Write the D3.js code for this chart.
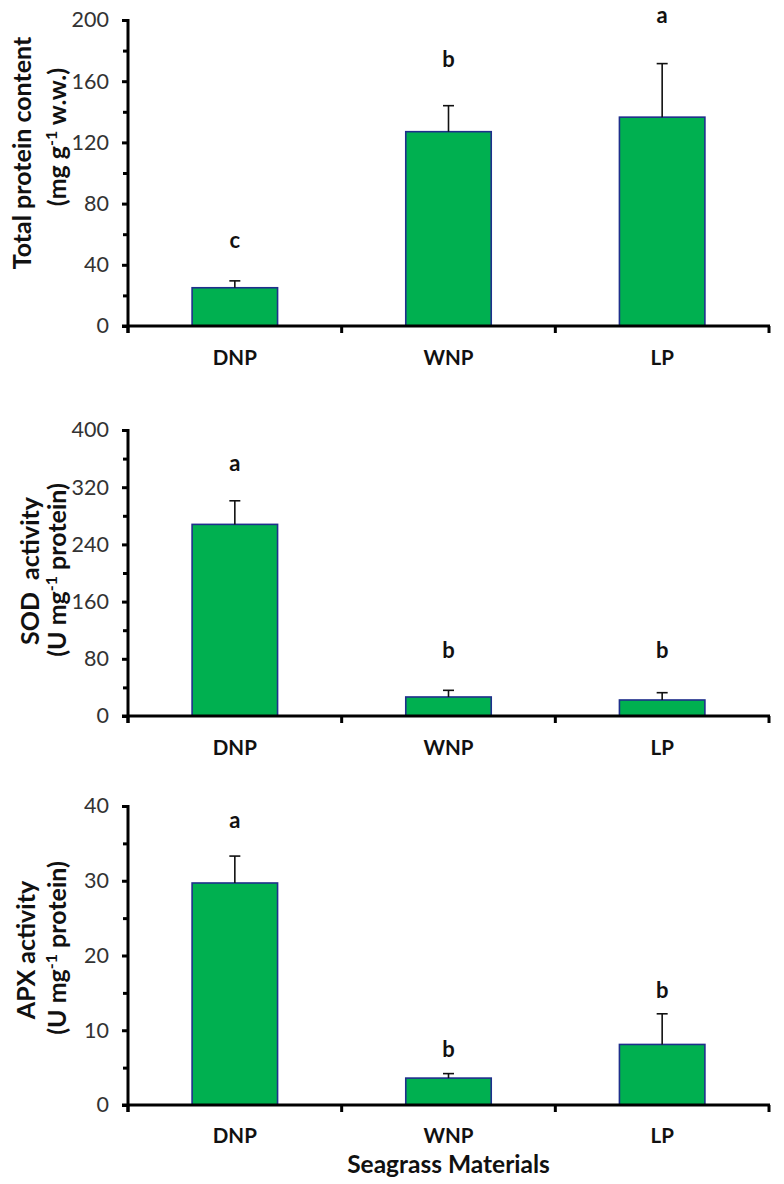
<!DOCTYPE html>
<html><head><meta charset="utf-8">
<script src="https://cdn.jsdelivr.net/npm/d3@7"></script>
<style>
html,body{margin:0;padding:0;background:#fff;}
text{font-family:Lato,"Open Sans",sans-serif;}
</style></head>
<body><svg id="chart" width="784" height="1184"></svg>
<script>
const categories = ["DNP", "WNP", "LP"];
const proteinValues = [25, 127, 136.5];
const proteinErrors = [4.5, 17, 35];
const proteinLetters = ["c", "b", "a"];
const proteinLetterAt = [56, 174, 203];
const proteinTicks = [0, 40, 80, 120, 160, 200];
const proteinMinor = [20, 60, 100, 140, 180];

const sodValues = [268, 26.6, 22.4];
const sodErrors = [33, 9.3, 10.2];
const sodLetters = ["a", "b", "b"];
const sodLetterAt = [354, 92, 92];
const sodTicks = [0, 80, 160, 240, 320, 400];
const sodMinor = [40, 120, 200, 280, 360];

const apxValues = [29.7, 3.6, 8.1];
const apxErrors = [3.6, 0.6, 4.1];
const apxLetters = ["a", "b", "b"];
const apxLetterAt = [38.1, 7.4, 15.4];
const apxTicks = [0, 10, 20, 30, 40];
const apxMinor = [5, 15, 25, 35];

const xTitle = "Seagrass Materials";

const svg = d3.select("#chart");
const X0 = 128, X1 = 769;
const x = d3.scaleBand().domain(categories).range([X0, X1]).paddingInner(0).paddingOuter(0);
const barW = x.bandwidth() * 0.4;

const panels = [
  {vals: proteinValues, errs: proteinErrors, letters: proteinLetters, letterAt: proteinLetterAt,
   ticks: proteinTicks, minor: proteinMinor, yTop: 20, yBot: 326,
   title1: [{t: "Total protein content"}], t1x: 22, t1y: 153,
   title2: [{t: "(mg g"}, {t: "-1", sup: true}, {t: " w.w.)"}], t2x: 57, t2y: 137, catY: 358},
  {vals: sodValues, errs: sodErrors, letters: sodLetters, letterAt: sodLetterAt,
   ticks: sodTicks, minor: sodMinor, yTop: 430, yBot: 716,
   title1: [{t: "SOD\u00a0 activity"}], t1x: 30, t1y: 571,
   title2: [{t: "(U mg"}, {t: "-1", sup: true}, {t: " protein)"}], t2x: 57, t2y: 570, catY: 748},
  {vals: apxValues, errs: apxErrors, letters: apxLetters, letterAt: apxLetterAt,
   ticks: apxTicks, minor: apxMinor, yTop: 806, yBot: 1105,
   title1: [{t: "APX activity"}], t1x: 26, t1y: 950,
   title2: [{t: "(U mg"}, {t: "-1", sup: true}, {t: " protein)"}], t2x: 57, t2y: 948, catY: 1136}
];

panels.forEach(p => {
  const dom = [0, p.ticks[p.ticks.length - 1]];
  const y = d3.scaleLinear().domain(dom).range([p.yBot, p.yTop]);
  const g = svg.append("g");

  g.selectAll("rect.bar").data(categories).join("rect")
    .attr("x", d => x(d) + (x.bandwidth() - barW) / 2)
    .attr("width", barW)
    .attr("y", (d, i) => y(p.vals[i]))
    .attr("height", (d, i) => y(0) - y(p.vals[i]))
    .attr("fill", "#00b050")
    .attr("stroke", "#1f2f8c")
    .attr("stroke-width", 1.6);

  const cx = d => x(d) + x.bandwidth() / 2;
  g.selectAll("line.err").data(categories).join("line")
    .attr("x1", cx).attr("x2", cx)
    .attr("y1", (d, i) => y(p.vals[i]))
    .attr("y2", (d, i) => y(p.vals[i] + p.errs[i]))
    .attr("stroke", "#111").attr("stroke-width", 1.6);
  g.selectAll("line.cap").data(categories).join("line")
    .attr("x1", d => cx(d) - 5.5).attr("x2", d => cx(d) + 5.5)
    .attr("y1", (d, i) => y(p.vals[i] + p.errs[i]))
    .attr("y2", (d, i) => y(p.vals[i] + p.errs[i]))
    .attr("stroke", "#111").attr("stroke-width", 1.6);

  g.selectAll("text.letter").data(categories).join("text")
    .attr("x", cx)
    .attr("y", (d, i) => y(p.letterAt[i]))
    .attr("dy", "0.35em")
    .attr("text-anchor", "middle")
    .attr("font-size", 22).attr("font-weight", "bold").attr("fill", "#111")
    .text((d, i) => p.letters[i]);

  const ya = g.append("g").attr("transform", `translate(${X0},0)`)
    .call(d3.axisLeft(y).tickValues(p.ticks).tickFormat(d3.format("d")).tickSize(6).tickPadding(13));
  ya.select(".domain").attr("stroke", "#000").attr("stroke-width", 3)
    .attr("d", `M0,${p.yTop - 1}V${p.yBot + 7}`);
  ya.selectAll(".tick line").attr("stroke", "#000").attr("stroke-width", 3);
  ya.selectAll(".tick text").attr("font-size", 21.5).attr("fill", "#333")
    .attr("font-family", "Lato, 'Open Sans', sans-serif");
  const ym = g.append("g").attr("transform", `translate(${X0},0)`)
    .call(d3.axisLeft(y).tickValues(p.minor).tickFormat("").tickSize(5));
  ym.select(".domain").remove();
  ym.selectAll(".tick line").attr("stroke", "#000").attr("stroke-width", 3);

  g.append("line").attr("x1", X0 - 6).attr("x2", X1 + 1)
    .attr("y1", y(0)).attr("y2", y(0))
    .attr("stroke", "#000").attr("stroke-width", 3);
  const edges = categories.map(c => x(c)).concat([x(categories[categories.length - 1]) + x.bandwidth()]);
  g.selectAll("line.xt").data(edges).join("line")
    .attr("x1", d => d).attr("x2", d => d)
    .attr("y1", y(0)).attr("y2", y(0) + 7)
    .attr("stroke", "#000").attr("stroke-width", 3);
  g.selectAll("text.cat").data(categories).join("text")
    .attr("x", cx).attr("y", p.catY).attr("dy", "0.35em")
    .attr("text-anchor", "middle")
    .attr("font-size", 20.5).attr("font-weight", "bold").attr("fill", "#111")
    .text(d => d);

  const addTitle = (parts, tx, ty) => {
    const t = g.append("text")
      .attr("transform", `translate(${tx},${ty}) rotate(-90)`)
      .attr("text-anchor", "middle").attr("dy", "0.35em")
      .attr("font-size", 25).attr("font-weight", "bold").attr("fill", "#111");
    parts.forEach(pt => {
      const s = t.append("tspan").text(pt.t);
      if (pt.sup) s.attr("font-size", 16).attr("baseline-shift", "super");
    });
  };
  addTitle(p.title1, p.t1x, p.t1y);
  addTitle(p.title2, p.t2x, p.t2y);
});

svg.append("text").attr("x", (X0 + X1) / 2).attr("y", 1164).attr("dy", "0.35em")
  .attr("text-anchor", "middle").attr("font-size", 24.5).attr("font-weight", "bold")
  .attr("fill", "#111").text(xTitle);
</script></body></html>
